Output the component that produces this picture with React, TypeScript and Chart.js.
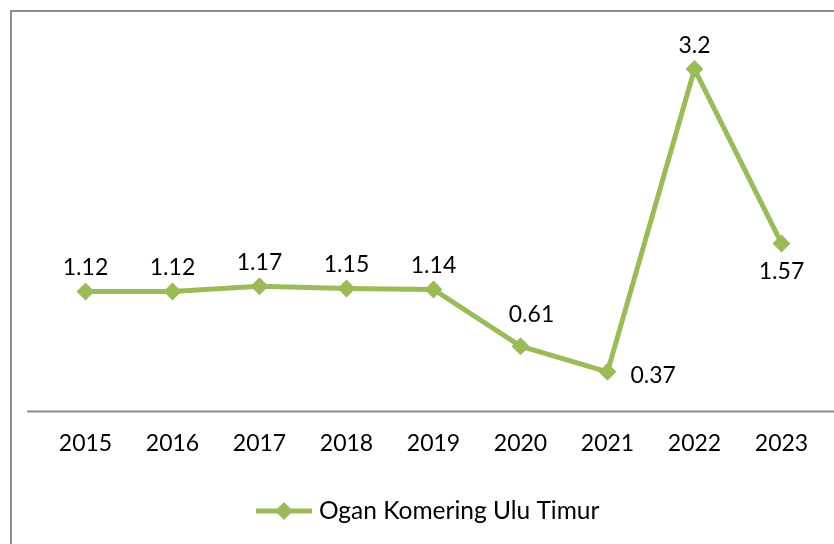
import React, { useEffect, useRef } from "react";
import { Chart, registerables } from "chart.js";

Chart.register(...registerables);

const years = ["2015", "2016", "2017", "2018", "2019", "2020", "2021", "2022", "2023"];
const values = [1.12, 1.12, 1.17, 1.15, 1.14, 0.61, 0.37, 3.2, 1.57];
const valueLabels = ["1.12", "1.12", "1.17", "1.15", "1.14", "0.61", "0.37", "3.2", "1.57"];
const labelPlacement = ["top", "top", "top", "top", "top", "topRight", "right", "top", "bottom"];
const seriesName = "Ogan Komering Ulu Timur";

const GREEN = "#9BBB59";
const FONT = "Lato";

const decorPlugin = {
  id: "decor",
  beforeDatasetsDraw(chart: any) {
    const ctx = chart.ctx;
    const y0 = chart.scales.y.getPixelForValue(0);
    ctx.save();
    ctx.strokeStyle = "#8c8c8c";
    ctx.lineWidth = 2;
    ctx.beginPath();
    ctx.moveTo(11, 544);
    ctx.lineTo(11, 11);
    ctx.lineTo(834, 11);
    ctx.stroke();
    ctx.beginPath();
    ctx.moveTo(27, y0);
    ctx.lineTo(834, y0);
    ctx.stroke();
    ctx.restore();
  },
  afterDatasetsDraw(chart: any) {
    const ctx = chart.ctx;
    const meta = chart.getDatasetMeta(0);
    ctx.save();
    ctx.font = `23px ${FONT}`;
    ctx.fillStyle = "#000";
    meta.data.forEach((pt: any, i: number) => {
      const p = labelPlacement[i];
      let x = pt.x;
      let y = pt.y;
      ctx.textBaseline = "middle";
      ctx.textAlign = "center";
      if (p === "top") y -= 24;
      else if (p === "bottom") y += 28;
      else if (p === "topRight") { x += 11; y -= 32; }
      else if (p === "right") { ctx.textAlign = "left"; x += 23; y += 4; }
      ctx.fillText(valueLabels[i], x, y);
    });
    // legend
    const ly = 511;
    ctx.strokeStyle = GREEN;
    ctx.lineWidth = 5;
    ctx.beginPath();
    ctx.moveTo(256, ly);
    ctx.lineTo(312, ly);
    ctx.stroke();
    ctx.fillStyle = GREEN;
    ctx.beginPath();
    ctx.moveTo(284, ly - 9);
    ctx.lineTo(293, ly);
    ctx.lineTo(284, ly + 9);
    ctx.lineTo(275, ly);
    ctx.closePath();
    ctx.fill();
    ctx.fillStyle = "#000";
    ctx.font = `24.5px ${FONT}`;
    ctx.textAlign = "left";
    ctx.textBaseline = "middle";
    ctx.fillText(seriesName, 319, ly);
    ctx.restore();
  },
};

export default function App() {
  const ref = useRef<HTMLCanvasElement>(null);
  useEffect(() => {
    if (!ref.current) return;
    const chart = new Chart(ref.current, {
      type: "line",
      data: {
        labels: years,
        datasets: [
          {
            label: seriesName,
            data: values,
            borderColor: GREEN,
            backgroundColor: GREEN,
            borderWidth: 5,
            pointStyle: "rectRot",
            pointRadius: 9,
            pointBorderWidth: 0,
            pointBackgroundColor: GREEN,
            tension: 0,
          },
        ],
      },
      options: {
        responsive: false,
        animation: false,
        layout: { padding: { left: 42, right: 6, top: 37, bottom: 69 } },
        plugins: { legend: { display: false }, tooltip: { enabled: false } },
        scales: {
          x: {
            offset: true,
            grid: { display: false, drawTicks: false },
            border: { display: false },
            ticks: { color: "#000", font: { family: FONT, size: 23 }, padding: 18 },
          },
          y: { display: false, min: 0, max: 3.5 },
        },
      },
      plugins: [decorPlugin],
    });
    return () => chart.destroy();
  }, []);
  return (
    <div style={{ position: "fixed", left: 0, top: 0, width: 834, height: 544, background: "#fff" }}>
      <canvas ref={ref} width={834} height={544} />
    </div>
  );
}
